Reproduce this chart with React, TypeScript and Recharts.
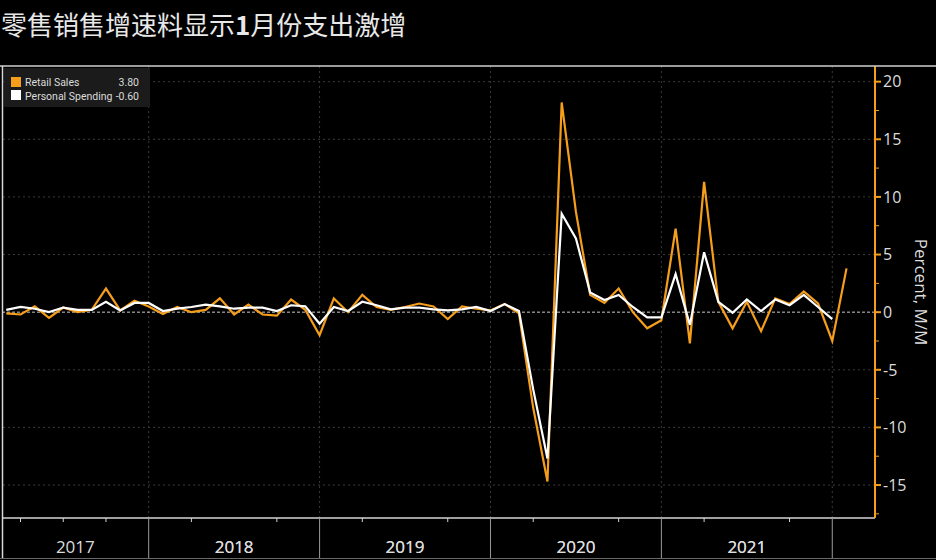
import React from 'react';
import { LineChart, Line, XAxis, YAxis, ReferenceLine } from 'recharts';

// ---- data (monthly % change, Feb 2017 .. Jan 2022) ----
const startYear = 2017;
const startMonth = 2;

const retailSales = [
  -0.1, -0.2, 0.5, -0.5, 0.4, 0.0, 0.2, 2.05, 0.15, 1.0, 0.5,
  -0.15, 0.45, 0.0, 0.2, 1.2, -0.2, 0.65, -0.2, -0.3, 1.1, 0.2, -2.0,
  1.2, 0.0, 1.5, 0.45, 0.2, 0.45, 0.75, 0.5, -0.6, 0.5, 0.3, 0.15,
  0.7, -0.1, -8.3, -14.7, 18.2, 8.7, 1.5, 0.8, 2.05, 0.0, -1.4, -0.7,
  7.25, -2.7, 11.3, 0.9, -1.4, 0.9, -1.65, 1.2, 0.7, 1.8, 0.75, -2.5,
  3.8,
];

const personalSpending = [
  0.2, 0.45, 0.3, 0.0, 0.4, 0.2, 0.2, 0.9, 0.15, 0.8, 0.8,
  0.1, 0.3, 0.45, 0.65, 0.5, 0.3, 0.4, 0.4, 0.1, 0.6, 0.5, -1.0,
  0.45, 0.1, 0.9, 0.6, 0.25, 0.4, 0.4, 0.25, 0.15, 0.25, 0.45, 0.1,
  0.7, 0.1, -6.7, -12.7, 8.55, 6.4, 1.7, 1.05, 1.5, 0.45, -0.45, -0.45,
  3.3, -1.1, 5.2, 0.9, -0.05, 1.1, 0.1, 1.1, 0.6, 1.5, 0.45, -0.6,
];

const seriesNames = ['Retail Sales', 'Personal Spending'];
const legendValues = ['3.80', '-0.60'];
const yearLabels = ['2017', '2018', '2019', '2020', '2021'];
const yMajorTicks = [-15, -10, -5, 0, 5, 10, 15, 20];
const yMinorTicks = [-17.5, -12.5, -7.5, -2.5, 2.5, 7.5, 12.5, 17.5];
const quarterTicks = [1, 4, 7, 10, 13, 16, 19, 22, 25, 28, 31, 34, 37, 40, 43, 46, 49, 52, 55, 58];
const xDomain: [number, number] = [-0.3, 61];
const yDomain: [number, number] = [-17.86, 21.36];

const title = ['零售销售增速料显示', '1', '月份支出激增'];
const yLabel = 'Percent, M/M';

// month labels for each point
const months = retailSales.map((_, i) => {
  const m = startMonth - 1 + i;
  return `${startYear + Math.floor(m / 12)}-${String((m % 12) + 1).padStart(2, '0')}`;
});

const data = months.map((m, i) => ({
  idx: i,
  month: m,
  retail: retailSales[i],
  spending: i < personalSpending.length ? personalSpending[i] : null,
}));

// year boundaries (index of December point) and label centres
const yearEnds = yearLabels.map((y) => months.indexOf(`${y}-12`));
const yearCenters = yearEnds.map((end) => {
  const start = Math.max(end - 12, xDomain[0]);
  return (start + end) / 2;
});

const ORANGE = '#f59e1b';
const WHITE = '#ffffff';
const GRID = '#3a3a3a';
const AXIS = '#d4d4d4';
const TEXT = '#dcdcdc';
const FONT = '"Open Sans", "DejaVu Sans", sans-serif';
const LEGEND_FONT = 'Roboto, "Open Sans", sans-serif';

const XTick = (props: any) => {
  const { x, y, payload } = props;
  const v = payload.value;
  const ci = yearCenters.indexOf(v);
  if (ci >= 0) {
    return (
      <text x={x} y={y + 35} textAnchor="middle" fill={TEXT} fontSize={17} fontFamily={FONT}>
        {yearLabels[ci]}
      </text>
    );
  }
  const isBoundary = yearEnds.includes(v);
  return (
    <line
      x1={x}
      x2={x}
      y1={y}
      y2={isBoundary ? y + 40 : y + 4}
      stroke={isBoundary ? '#9a9a9a' : AXIS}
      strokeWidth={1}
    />
  );
};

const YTick = (props: any) => {
  const { x, y, payload } = props;
  const v = payload.value;
  const major = yMajorTicks.includes(v);
  return (
    <g>
      <line x1={x} x2={x + (major ? 6 : 4)} y1={y} y2={y} stroke={ORANGE} strokeWidth={major ? 2 : 1} />
      {major && (
        <text x={x + 8} y={y} dy="0.36em" fill={TEXT} fontSize={16} fontFamily={FONT}>
          {String(v)}
        </text>
      )}
    </g>
  );
};

export default function App() {
  return (
    <div
      style={{
        position: 'fixed',
        left: 0,
        top: 0,
        width: 936,
        height: 560,
        background: '#000',
        overflow: 'hidden',
      }}
    >
      <div style={{ position: 'absolute', left: 0, top: 0 }}>
        <LineChart
          width={936}
          height={560}
          data={data}
          margin={{ top: 66, right: 0, bottom: 0, left: 2 }}
        >
          <XAxis
            dataKey="idx"
            type="number"
            domain={xDomain}
            allowDataOverflow
            ticks={[...quarterTicks, ...yearCenters]}
            interval={0}
            tick={<XTick />}
            tickLine={false}
            tickSize={0}
            tickMargin={0}
            axisLine={{ stroke: AXIS, strokeWidth: 1.5 }}
            height={42}
          />
          <YAxis
            orientation="right"
            type="number"
            domain={yDomain}
            allowDataOverflow
            ticks={[...yMinorTicks, ...yMajorTicks].sort((a, b) => a - b)}
            interval={0}
            tick={<YTick />}
            tickLine={false}
            tickSize={0}
            tickMargin={0}
            axisLine={{ stroke: ORANGE, strokeWidth: 2 }}
            width={61}
          />
          {yMajorTicks
            .filter((v) => v !== 0)
            .map((v) => (
              <ReferenceLine key={`h${v}`} y={v} stroke={GRID} strokeDasharray="2 3" strokeWidth={1} />
            ))}
          {yearEnds.map((v) => (
            <ReferenceLine key={`v${v}`} x={v} stroke={GRID} strokeDasharray="2 3" strokeWidth={1} />
          ))}
          <ReferenceLine y={0} stroke="#c8c8c8" strokeDasharray="3 2" strokeWidth={1} />
          <Line
            type="linear"
            dataKey="retail"
            stroke={ORANGE}
            strokeWidth={2.2}
            dot={false}
            activeDot={false}
            isAnimationActive={false}
          />
          <Line
            type="linear"
            dataKey="spending"
            stroke={WHITE}
            strokeWidth={2.2}
            dot={false}
            activeDot={false}
            isAnimationActive={false}
          />
        </LineChart>
      </div>
      <svg
        width={936}
        height={560}
        style={{ position: 'absolute', left: 0, top: 0, pointerEvents: 'none' }}
      >
        <text x={1} y={35} fill="#e8e8e8" fontSize={26} fontFamily='"Noto Sans CJK SC", sans-serif'>
          {title[0]}
          <tspan fontWeight="bold">{title[1]}</tspan>
          {title[2]}
        </text>
        {/* frame */}
        <line x1={0} x2={936} y1={66} y2={66} stroke="#cfcfcf" strokeWidth={1.5} />
        <line x1={2.5} x2={2.5} y1={66} y2={558} stroke="#d8d8d8" strokeWidth={1.5} />
        <line x1={0} x2={936} y1={558.5} y2={558.5} stroke="#6a6a6a" strokeWidth={1} />
        {/* legend */}
        <rect x={4} y={68} width={146} height={39} fill="#1b1b1b" />
        <rect x={11} y={77} width={10} height={10} fill={ORANGE} />
        <rect x={11} y={90} width={10} height={10} fill={WHITE} />
        <text x={25} y={86} fill={TEXT} fontSize={10.5} fontFamily={LEGEND_FONT}>{seriesNames[0]}</text>
        <text x={139} y={86} fill={TEXT} fontSize={10.5} fontFamily={LEGEND_FONT} textAnchor="end">{legendValues[0]}</text>
        <text x={25} y={99.5} fill={TEXT} fontSize={10.5} fontFamily={LEGEND_FONT}>{seriesNames[1]}</text>
        <text x={139} y={99.5} fill={TEXT} fontSize={10.5} fontFamily={LEGEND_FONT} textAnchor="end">{legendValues[1]}</text>
        {/* y axis label */}
        <text
          transform="translate(915,292) rotate(90)"
          textAnchor="middle"
          fill={TEXT}
          fontSize={17}
          fontFamily={FONT}
        >
          {yLabel}
        </text>
      </svg>
    </div>
  );
}
